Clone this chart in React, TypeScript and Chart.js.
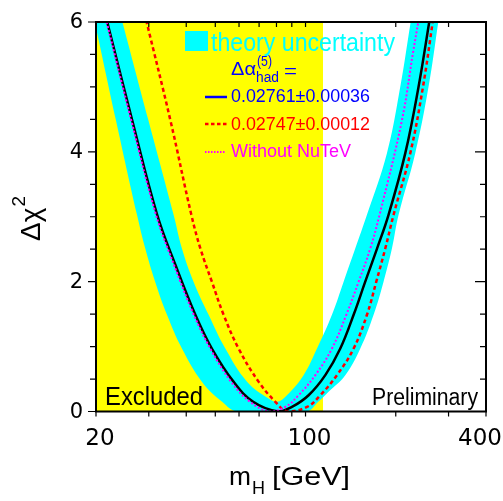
import React, { useEffect, useRef } from 'react';
import { Chart, registerables } from 'chart.js';

Chart.register(...registerables);

// ---- axis ranges & ticks ----
const massMin = 20;
const massMax = 400;
const chi2Min = 0;
const chi2Max = 6;
const excludedLimit = 114.4;
const xTickValues = [20, 30, 40, 50, 60, 70, 80, 90, 100, 200, 300, 400];
const xTickLabels = [20, 100, 400];
const yTickValues = [0, 0.5, 1, 1.5, 2, 2.5, 3, 3.5, 4, 4.5, 5, 5.5, 6];
const yTickLabels = [0, 2, 4, 6];

// ---- central fit, Δα_had = 0.02761 ± 0.00036 (black) ----
const blackMass = [21.8, 26.4, 32.0, 36.8, 42.9, 48.7, 57.5, 66.9, 81, 90.1, 102.4, 116.4, 130.6, 144.7, 158.2, 173.2, 189.2, 215.2, 238.2, 259.3];
const blackChi2 = [6.0, 4.49, 3.03, 2.26, 1.49, 0.97, 0.46, 0.15, 0.0, 0.07, 0.25, 0.56, 0.97, 1.49, 2.0, 2.51, 3.03, 3.98, 5.0, 6.03];

// ---- Δα_had = 0.02747 ± 0.00012 (red dashed) ----
const redMass = [29.4, 35.4, 41.6, 44.6, 48.7, 53.3, 59.8, 69.7, 79.3, 87, 101.1, 112, 127.3, 144.7, 160.3, 172.2, 184.5, 196.7, 223.6, 246.5, 266.2];
const redChi2 = [6.03, 4.49, 3.03, 2.51, 2.0, 1.49, 0.97, 0.46, 0.15, 0.0, 0.07, 0.25, 0.56, 0.97, 1.49, 2.0, 2.51, 3.03, 3.98, 5.0, 6.03];

// ---- Without NuTeV (magenta dotted) ----
const magentaMass = [21.7, 26.2, 31.7, 36.4, 42.4, 48.1, 56.4, 65.3, 76, 85.6, 94.8, 107.8, 122.5, 136.8, 150.4, 164.4, 176.6, 209.8, 228.2, 237.8];
const magentaChi2 = [6.0, 4.49, 3.03, 2.26, 1.49, 0.97, 0.46, 0.15, 0.0, 0.07, 0.25, 0.56, 0.97, 1.49, 2.0, 2.51, 3.03, 4.49, 5.52, 6.0];

// ---- theory uncertainty band: upper and lower envelopes ----
const bandUpperMass = [20, 24.4, 29.9, 36.3, 38.7, 42.3, 47.5, 54.0, 63.8, 75.3, 80.5, 86.7, 98.5, 109.2, 122.5, 134.0, 146.5, 160.3, 186.9, 207.0, 224.8, 300];
const bandUpperChi2 = [7.53, 6.03, 4.49, 3.03, 2.51, 2.0, 1.49, 0.97, 0.46, 0.2, 0.15, 0.25, 0.56, 0.97, 1.49, 2.0, 2.51, 3.03, 3.98, 5.0, 6.03, 9.6];
const bandLowerMass = [20, 23.3, 27.4, 29.2, 31.5, 34.5, 38.7, 45.1, 52.7, 59.2, 100.6, 110.3, 119.1, 135.7, 152.3, 168.7, 182.1, 194.2, 204.4, 232.3, 257.2, 277.9, 300];
const bandLowerChi2 = [5.91, 4.49, 3.03, 2.51, 2.0, 1.49, 0.97, 0.46, 0.15, 0.0, 0.0, 0.15, 0.3, 0.56, 0.97, 1.49, 2.0, 2.51, 3.03, 3.98, 5.0, 6.03, 7.05];

// ---- texts ----
const legendBandText = 'theory uncertainty';
const legendHeader = ['Δα', '(5)', 'had', '='];
const legendBlackText = '0.02761±0.00036';
const legendRedText = '0.02747±0.00012';
const legendMagentaText = 'Without NuTeV';
const excludedText = 'Excluded';
const preliminaryText = 'Preliminary';
const yTitle = ['Δχ', '2'];
const xTitle = ['m', 'H', '[GeV]'];

const CYAN = '#00ffff';
const YELLOW = '#ffff00';
const RED = '#ff0000';
const MAGENTA = '#ff00ff';
const BLUE = '#0000ff';
const SANS = '"Liberation Sans", Arial, Helvetica, sans-serif';
const TICKFONT = '"DejaVu Sans", sans-serif';
const TENSION = 0.4;

const pts = (xs: number[], ys: number[]) => xs.map((x, i) => ({ x, y: ys[i] }));

function fitText(ctx: CanvasRenderingContext2D, text: string, x: number, y: number, size: number, color: string, width?: number, align: 'left' | 'center' | 'right' = 'left') {
  ctx.font = `${size}px ${SANS}`;
  ctx.fillStyle = color;
  ctx.textAlign = 'left';
  ctx.textBaseline = 'alphabetic';
  const w = ctx.measureText(text).width;
  const sx = width ? width / w : 1;
  let x0 = x;
  if (align === 'center') x0 = x - (w * sx) / 2;
  if (align === 'right') x0 = x - w * sx;
  ctx.save();
  ctx.translate(x0, y);
  ctx.scale(sx, 1);
  ctx.fillText(text, 0, 0);
  ctx.restore();
  return w * sx;
}

const decorPlugin = {
  id: 'decor',
  afterDraw(chart: any) {
    const { ctx, chartArea: a, scales } = chart;
    const xs = scales.x;
    const ys = scales.y;
    ctx.save();

    // frame
    ctx.strokeStyle = '#000';
    ctx.lineWidth = 2;
    ctx.strokeRect(a.left, a.top, a.right - a.left, a.bottom - a.top);

    // tick marks
    ctx.lineWidth = 1.2;
    ctx.beginPath();
    for (const v of xTickValues) {
      const px = xs.getPixelForValue(v);
      ctx.moveTo(px, a.bottom);
      ctx.lineTo(px, a.bottom + 5);
      ctx.moveTo(px, a.top);
      ctx.lineTo(px, a.top + 5);
    }
    for (const v of yTickValues) {
      const py = ys.getPixelForValue(v);
      const major = yTickLabels.includes(v);
      ctx.moveTo(a.left, py);
      ctx.lineTo(a.left - (major ? 8 : 6), py);
      ctx.moveTo(a.right, py);
      ctx.lineTo(a.right - (major ? 11 : 6), py);
    }
    ctx.stroke();

    // tick labels
    ctx.fillStyle = '#000';
    ctx.font = `23px ${TICKFONT}`;
    ctx.textBaseline = 'alphabetic';
    ctx.textAlign = 'center';
    for (const v of xTickLabels) {
      const t = String(v);
      const w = ctx.measureText(t).width;
      let px = xs.getPixelForValue(v) + 4;
      px = Math.min(px, chart.width - w / 2 - 1);
      ctx.fillText(t, px, a.bottom + 33);
    }
    ctx.font = `21px ${TICKFONT}`;
    ctx.textAlign = 'right';
    ctx.textBaseline = 'middle';
    for (const v of yTickLabels) {
      ctx.fillText(String(v), a.left - 13, ys.getPixelForValue(v) + 1);
    }

    // y title (rotated)
    ctx.save();
    ctx.translate(40, 241);
    ctx.rotate(-Math.PI / 2);
    const wDchi = fitText(ctx, yTitle[0], 0, 0, 28, '#000');
    fitText(ctx, yTitle[1], wDchi + 1, -15, 19, '#000');
    ctx.restore();

    // x title
    const wm = fitText(ctx, xTitle[0], 229, 485, 26, '#000', 22);
    fitText(ctx, xTitle[1], 229 + wm + 1, 494, 18, '#000', 13);
    fitText(ctx, xTitle[2], 272, 485, 26, '#000', 78);

    // in-plot labels
    fitText(ctx, excludedText, a.left + 9, a.bottom - 7, 25, '#000', 98);
    fitText(ctx, preliminaryText, a.right - 8, a.bottom - 7, 23, '#000', 106, 'right');

    // legend
    ctx.fillStyle = CYAN;
    ctx.fillRect(185, 31, 23, 20);
    fitText(ctx, legendBandText, 211, 50.5, 25, CYAN, 184);

    const wDa = fitText(ctx, legendHeader[0], 231, 75, 19, BLUE, 25);
    fitText(ctx, legendHeader[1], 231 + wDa + 1, 66, 14, BLUE, 15);
    fitText(ctx, legendHeader[2], 231 + wDa, 81.5, 14, BLUE, 23);
    fitText(ctx, legendHeader[3], 284, 77, 19, BLUE, 13);

    ctx.lineWidth = 2.5;
    ctx.strokeStyle = BLUE;
    ctx.setLineDash([]);
    ctx.beginPath();
    ctx.moveTo(205, 97);
    ctx.lineTo(227, 97);
    ctx.stroke();
    fitText(ctx, legendBlackText, 231, 102, 17.5, BLUE, 139);

    ctx.strokeStyle = RED;
    ctx.setLineDash([3.5, 2.5]);
    ctx.beginPath();
    ctx.moveTo(205, 124);
    ctx.lineTo(227, 124);
    ctx.stroke();
    fitText(ctx, legendRedText, 231, 130, 17.5, RED, 139);

    ctx.strokeStyle = MAGENTA;
    ctx.lineWidth = 2;
    ctx.setLineDash([1.5, 1.5]);
    ctx.beginPath();
    ctx.moveTo(205, 152);
    ctx.lineTo(226, 152);
    ctx.stroke();
    ctx.setLineDash([]);
    fitText(ctx, legendMagentaText, 231, 157, 17.5, MAGENTA, 120);

    ctx.restore();
  },
};

export default function App() {
  const canvasRef = useRef<HTMLCanvasElement | null>(null);

  useEffect(() => {
    const canvas = canvasRef.current;
    if (!canvas) return;
    const chart = new Chart(canvas, {
      type: 'line',
      data: {
        datasets: [
          {
            label: 'Without NuTeV',
            data: pts(magentaMass, magentaChi2),
            borderColor: MAGENTA,
            borderWidth: 2,
            borderDash: [2, 2],
            tension: TENSION,
            fill: false,
            pointRadius: 0,
          },
          {
            label: '0.02747±0.00012',
            data: pts(redMass, redChi2),
            borderColor: RED,
            borderWidth: 2.5,
            borderDash: [4, 3],
            tension: TENSION,
            fill: false,
            pointRadius: 0,
          },
          {
            label: '0.02761±0.00036',
            data: pts(blackMass, blackChi2),
            borderColor: '#000',
            borderWidth: 2.5,
            tension: TENSION,
            fill: false,
            pointRadius: 0,
          },
          {
            label: 'theory upper',
            data: pts(bandUpperMass, bandUpperChi2),
            borderWidth: 0,
            borderColor: 'rgba(0,0,0,0)',
            backgroundColor: CYAN,
            tension: TENSION,
            fill: '+1',
            pointRadius: 0,
          },
          {
            label: 'theory lower',
            data: pts(bandLowerMass, bandLowerChi2),
            borderWidth: 0,
            borderColor: 'rgba(0,0,0,0)',
            tension: TENSION,
            fill: false,
            pointRadius: 0,
          },
          {
            label: 'Excluded',
            data: [
              { x: massMin, y: chi2Max },
              { x: excludedLimit, y: chi2Max },
            ],
            borderWidth: 0,
            borderColor: 'rgba(0,0,0,0)',
            backgroundColor: YELLOW,
            fill: 'origin',
            pointRadius: 0,
          },
        ],
      },
      options: {
        responsive: false,
        animation: false,
        devicePixelRatio: 1,
        layout: { padding: { left: 96, right: 17, top: 22, bottom: 89.5 } },
        plugins: {
          legend: { display: false },
          tooltip: { enabled: false },
        },
        scales: {
          x: { type: 'logarithmic', min: massMin, max: massMax, display: false },
          y: { type: 'linear', min: chi2Min, max: chi2Max, display: false },
        },
      },
      plugins: [decorPlugin],
    } as any);
    return () => chart.destroy();
  }, []);

  return (
    <div style={{ position: 'fixed', left: 0, top: 0, width: 503, height: 501, background: '#fff' }}>
      <canvas ref={canvasRef} width={503} height={501} style={{ display: 'block', width: 503, height: 501 }} />
    </div>
  );
}
